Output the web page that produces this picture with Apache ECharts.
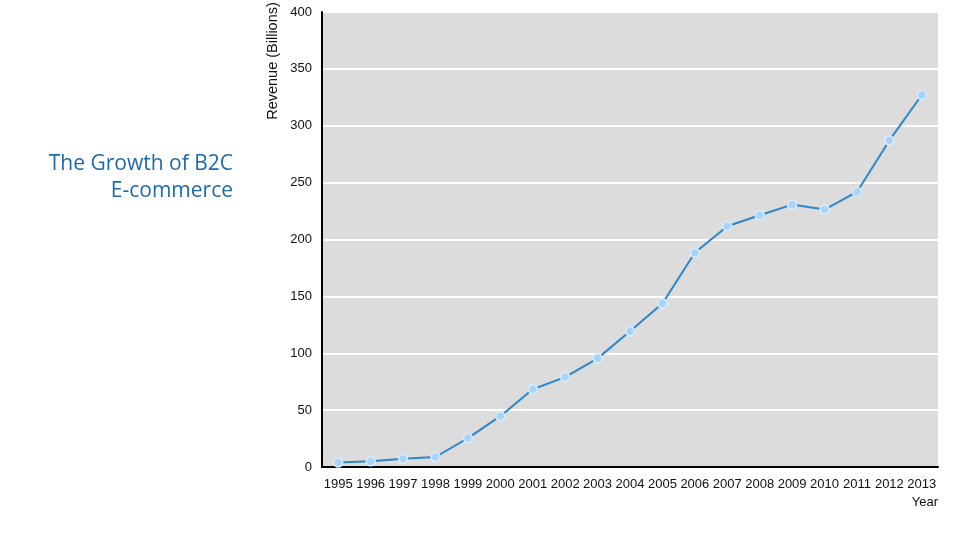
<!DOCTYPE html>
<html>
<head>
<meta charset="utf-8">
<script src="https://cdn.jsdelivr.net/npm/echarts@6/dist/echarts.min.js"></script>
<style>html,body{margin:0;padding:0;background:#fff;}#main{width:960px;height:540px;}</style>
</head>
<body>
<div id="main"></div>
<script>
var years = ['1995','1996','1997','1998','1999','2000','2001','2002','2003','2004','2005','2006','2007','2008','2009','2010','2011','2012','2013'];
var revenue = [4, 5, 7.3, 8.8, 25.4, 44.7, 68.4, 79, 95.5, 119.3, 143.8, 188.3, 211.7, 221.3, 230.7, 226.3, 241.8, 287.1, 327];
var yTicks = [0, 50, 100, 150, 200, 250, 300, 350, 400];

var chart = echarts.init(document.getElementById('main'));
chart.setOption({
  animation: false,
  backgroundColor: '#ffffff',
  grid: {
    left: 322, right: 22, top: 12, bottom: 73,
    show: true, backgroundColor: '#dcdcdc', borderWidth: 0
  },
  graphic: [
    {
      type: 'text', x: 233, y: 151,
      style: { text: 'The Growth of B2C\nE-commerce', fill: '#1f6aa8', font: '21px "Open Sans", "Noto Sans", sans-serif', align: 'right', lineHeight: 27 }
    },
    {
      type: 'text', x: 273, y: 61, rotation: Math.PI / 2,
      style: { text: 'Revenue (Billions)', fill: '#111', font: '14.5px "Liberation Sans", Arial, sans-serif', align: 'center', verticalAlign: 'middle' }
    }
  ],
  xAxis: {
    type: 'category',
    data: years,
    boundaryGap: true,
    name: 'Year',
    nameLocation: 'end',
    nameGap: 0,
    nameTextStyle: { color: '#111', fontSize: 13, fontFamily: 'Liberation Sans', align: 'right', verticalAlign: 'top', padding: [29, 0, 0, 0] },
    axisLine: { show: true, lineStyle: { color: '#000', width: 2 } },
    axisTick: { show: false },
    axisLabel: { color: '#111', fontSize: 13, fontFamily: 'Liberation Sans', margin: 11, interval: 0 },
    splitLine: { show: false }
  },
  yAxis: {
    type: 'value',
    min: 0, max: 400, interval: 50,
    axisLine: { show: true, lineStyle: { color: '#000', width: 2 } },
    axisTick: { show: false },
    axisLabel: { color: '#111', fontSize: 13, fontFamily: 'Liberation Sans', margin: 10, padding: [6, 0, 0, 0],
      formatter: function (v) { return yTicks.indexOf(v) >= 0 ? String(v) : ''; } },
    splitLine: { show: true, lineStyle: { color: '#ffffff', width: 2 } }
  },
  series: [{
    type: 'line',
    data: revenue,
    symbol: 'circle',
    symbolSize: 9,
    lineStyle: { color: '#2a87cf', width: 2 },
    itemStyle: { color: '#a9d3f7', borderColor: '#d8ecff', borderWidth: 1.5 },
    z: 3
  }]
});
</script>
</body>
</html>
